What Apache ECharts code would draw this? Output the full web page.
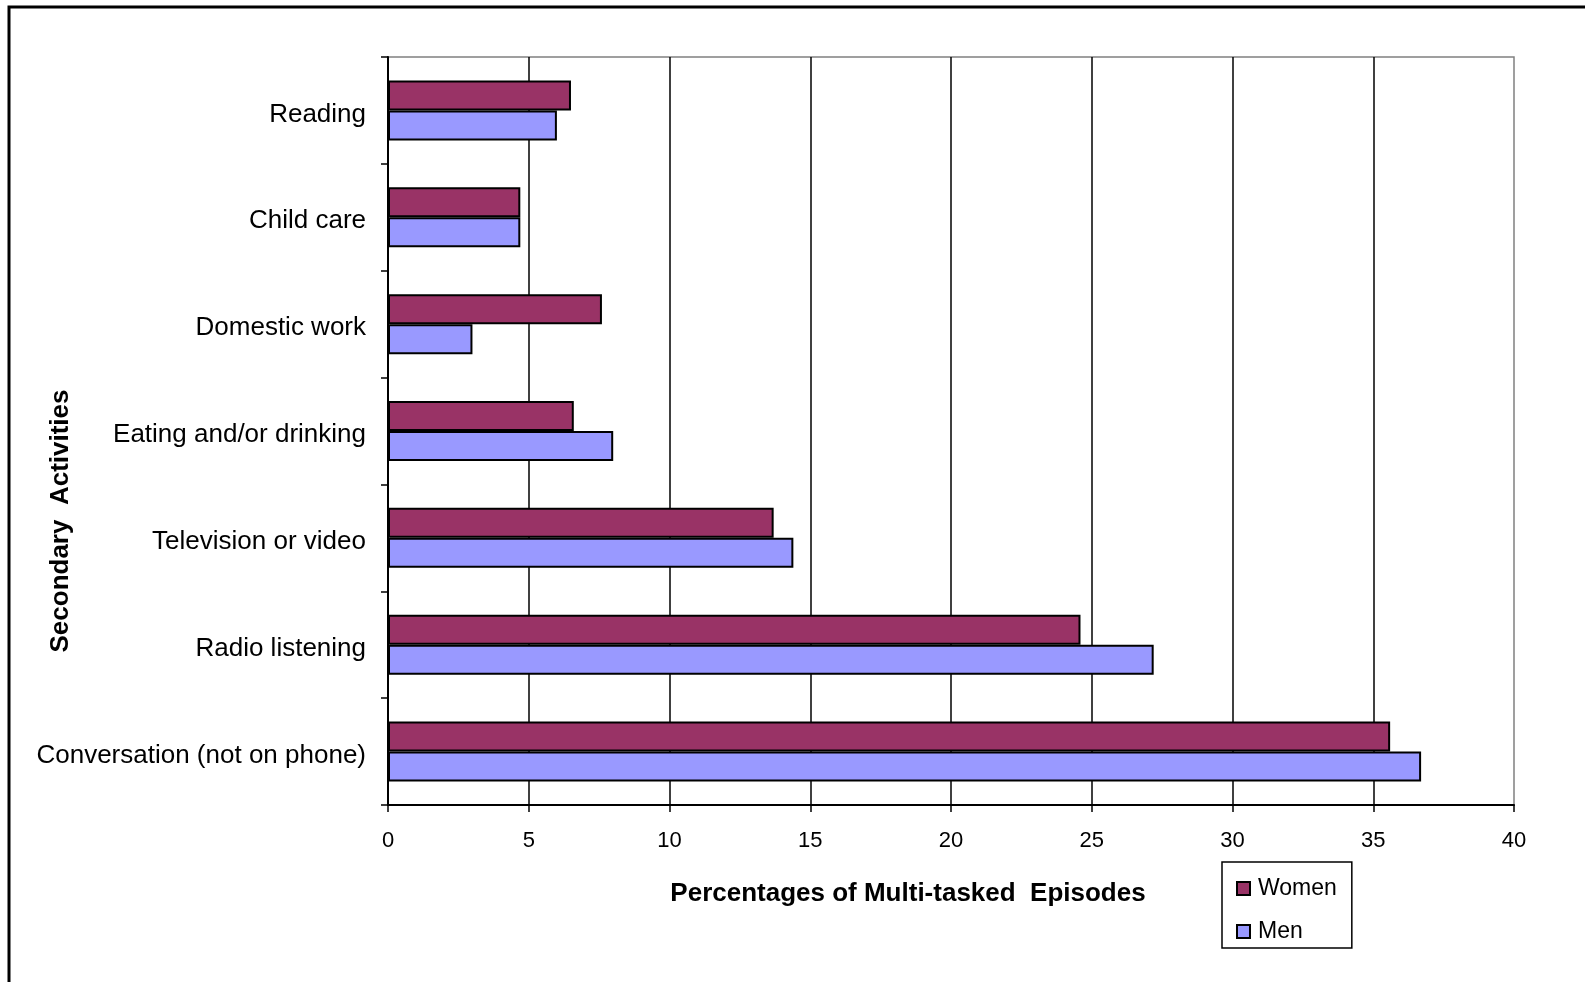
<!DOCTYPE html>
<html>
<head>
<meta charset="utf-8">
<script src="https://cdn.jsdelivr.net/npm/echarts@6/dist/echarts.min.js"></script>
<style>
html,body{margin:0;padding:0;background:#fff;}
#chart{width:1585px;height:982px;}
</style>
</head>
<body>
<div id="chart"></div>
<script>
// Categories listed bottom-to-top (ECharts category y axis starts at the bottom)
const categories = ['Conversation (not on phone)', 'Radio listening', 'Television or video', 'Eating and/or drinking', 'Domestic work', 'Child care', 'Reading'];
const women = [35.6, 24.6, 13.7, 6.6, 7.6, 4.7, 6.5];
const men = [36.7, 27.2, 14.4, 8.0, 3.0, 4.7, 6.0];
const xTicks = [0, 5, 10, 15, 20, 25, 30, 35, 40];
const xTitle = 'Percentages of Multi-tasked  Episodes';
const yTitle = 'Secondary  Activities';

const FONT = '"Liberation Sans", Arial, sans-serif';
const chart = echarts.init(document.getElementById('chart'), null, {renderer: 'canvas'});
chart.setOption({
  backgroundColor: '#fff',
  animation: false,
  grid: {
    left: 388, top: 57, right: 71, bottom: 177,
    show: true, borderColor: '#808080', borderWidth: 1.5, backgroundColor: 'transparent'
  },
  xAxis: {
    type: 'value',
    min: xTicks[0], max: xTicks[xTicks.length - 1], interval: 5,
    axisLine: {show: true, lineStyle: {color: '#000', width: 2}},
    axisTick: {show: true, length: 7, lineStyle: {color: '#000', width: 1.5}},
    axisLabel: {color: '#000', fontSize: 22, fontFamily: FONT, margin: 25},
    splitLine: {show: true, showMinLine: false, showMaxLine: false, lineStyle: {color: '#000', width: 1.5}}
  },
  yAxis: {
    type: 'category',
    data: categories,
    axisLine: {show: true, lineStyle: {color: '#000', width: 2}},
    axisTick: {show: true, length: 7, lineStyle: {color: '#000', width: 1.5}},
    axisLabel: {
      color: '#000', fontSize: 26, fontFamily: FONT, margin: 22,
      formatter: function (v) { return '{a|' + v + '}'; },
      rich: {a: {color: '#000', fontSize: 26, fontFamily: FONT, lineHeight: 34, verticalAlign: 'bottom'}}
    },
    splitLine: {show: false}
  },
  legend: {
    data: ['Women', 'Men'],
    orient: 'vertical',
    left: 1222, top: 862,
    padding: [15, 15, 5, 14],
    itemWidth: 13, itemHeight: 13, itemGap: 20,
    borderColor: '#000', borderWidth: 1.5,
    icon: 'rect',
    textStyle: {color: '#000', fontSize: 23, fontFamily: FONT, padding: [0, 0, 0, 3]}
  },
  series: [
    {
      name: 'Women', type: 'bar', data: women,
      barWidth: 30, barGap: '0%',
      itemStyle: {color: '#993366', borderColor: '#000', borderWidth: 2}
    },
    {
      name: 'Men', type: 'bar', data: men,
      barWidth: 30, barGap: '0%',
      itemStyle: {color: '#9999FF', borderColor: '#000', borderWidth: 2}
    }
  ],
  graphic: [
    {
      type: 'rect', x: 9, y: 7, silent: true,
      shape: {x: 0, y: 0, width: 2000, height: 2000},
      style: {fill: 'none', stroke: '#000', lineWidth: 3}
    },
    {
      type: 'text', x: 908, y: 894,
      style: {text: xTitle, fill: '#000', font: 'bold 26px ' + FONT, align: 'center', verticalAlign: 'middle'}
    },
    {
      type: 'text', x: 61, y: 521, rotation: Math.PI / 2,
      style: {text: yTitle, fill: '#000', font: 'bold 26px ' + FONT, align: 'center', verticalAlign: 'middle'}
    }
  ]
});
</script>
</body>
</html>
